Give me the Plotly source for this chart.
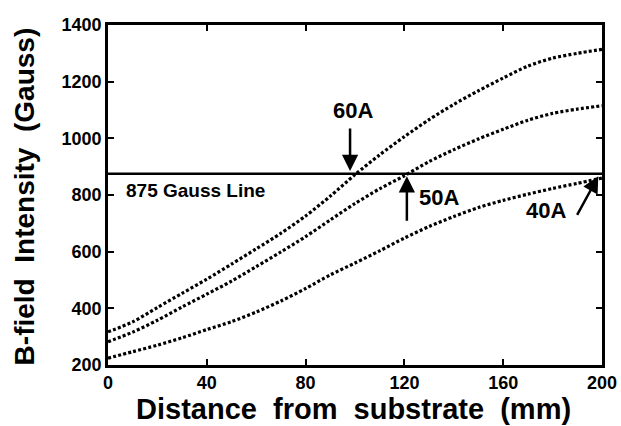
import plotly.graph_objects as go

distance_mm = [0, 10, 20, 30, 40, 50, 60, 70, 80, 90, 100,
               110, 120, 130, 140, 150, 160, 170, 180, 190, 200]
field_60A = [317, 352, 403, 453, 503, 556, 610, 665, 726, 796, 872,
             942, 1006, 1066, 1120, 1168, 1213, 1255, 1283, 1300, 1314]
field_50A = [282, 316, 358, 405, 450, 496, 547, 599, 653, 712, 770,
             822, 868, 918, 960, 998, 1032, 1064, 1088, 1103, 1115]
field_40A = [224, 247, 270, 296, 325, 353, 387, 426, 470, 518, 560,
             603, 648, 689, 724, 756, 781, 803, 823, 841, 860]
threshold_gauss = 875

x_ticks = [0, 40, 80, 120, 160, 200]
y_ticks = [200, 400, 600, 800, 1000, 1200, 1400]

FONT = "Liberation Sans"

fig = go.Figure()
for ys in (field_60A, field_50A, field_40A):
    fig.add_trace(go.Scatter(
        x=distance_mm, y=ys, mode="lines",
        line=dict(color="black", width=3.2, dash="3px,2.2px", shape="spline",
                  smoothing=0.8),
        showlegend=False, hoverinfo="skip"))

fig.add_trace(go.Scatter(
    x=[0, 200], y=[threshold_gauss, threshold_gauss], mode="lines",
    line=dict(color="black", width=2.4), showlegend=False, hoverinfo="skip"))

axis_common = dict(
    showline=True, linecolor="black", linewidth=2.6, mirror="ticks",
    ticks="inside", ticklen=6, tickwidth=2, tickcolor="black",
    showgrid=False, zeroline=False, automargin=False,
    tickfont=dict(family=FONT, size=18, color="black", weight="bold"),
)

fig.update_xaxes(range=[0, 200], tickvals=x_ticks, **axis_common)
fig.update_yaxes(range=[200, 1400], tickvals=y_ticks, **axis_common)

ann_font = dict(family=FONT, size=22, color="black")
annotations = [
    # axis titles
    dict(xref="paper", yref="paper", x=0.497, y=-0.128,
         text="<b>Distance  from  substrate  (mm)</b>", showarrow=False,
         xanchor="center", yanchor="middle",
         font=dict(family=FONT, size=29, color="black")),
    dict(xref="paper", yref="paper", x=-0.170, y=0.496,
         text="<b>B-field  Intensity  (Gauss)</b>", showarrow=False,
         textangle=-90, xanchor="center", yanchor="middle",
         font=dict(family=FONT, size=28, color="black")),
    # labels
    dict(x=6.5, y=816, text="<b>875 Gauss Line</b>", showarrow=False,
         xanchor="left", yanchor="middle",
         font=dict(family=FONT, size=19, color="black")),
    dict(x=99, y=1098, text="<b>60A</b>", showarrow=False, font=ann_font),
    dict(x=134, y=790, text="<b>50A</b>", showarrow=False, font=ann_font),
    dict(x=177.5, y=747, text="<b>40A</b>", showarrow=False, font=ann_font),
    # arrows
    dict(x=98, y=885, ax=0, ay=-44, text="", showarrow=True,
         arrowhead=2, arrowsize=1.3, arrowwidth=2.5, arrowcolor="black"),
    dict(x=121, y=866, ax=0, ay=46, text="", showarrow=True,
         arrowhead=2, arrowsize=1.3, arrowwidth=2.5, arrowcolor="black"),
    dict(x=198.5, y=866, ax=-22, ay=40, text="", showarrow=True,
         arrowhead=2, arrowsize=1.3, arrowwidth=2.5, arrowcolor="black"),
]

fig.update_layout(
    width=621, height=426,
    margin=dict(l=108, r=19, t=25, b=61),
    paper_bgcolor="white", plot_bgcolor="white",
    annotations=annotations,
    font=dict(family=FONT, color="black"),
)

fig.write_html("out.html", config={"displayModeBar": False},
               post_script="document.body.style.margin='0';"
                           "document.body.style.overflow='hidden';")
